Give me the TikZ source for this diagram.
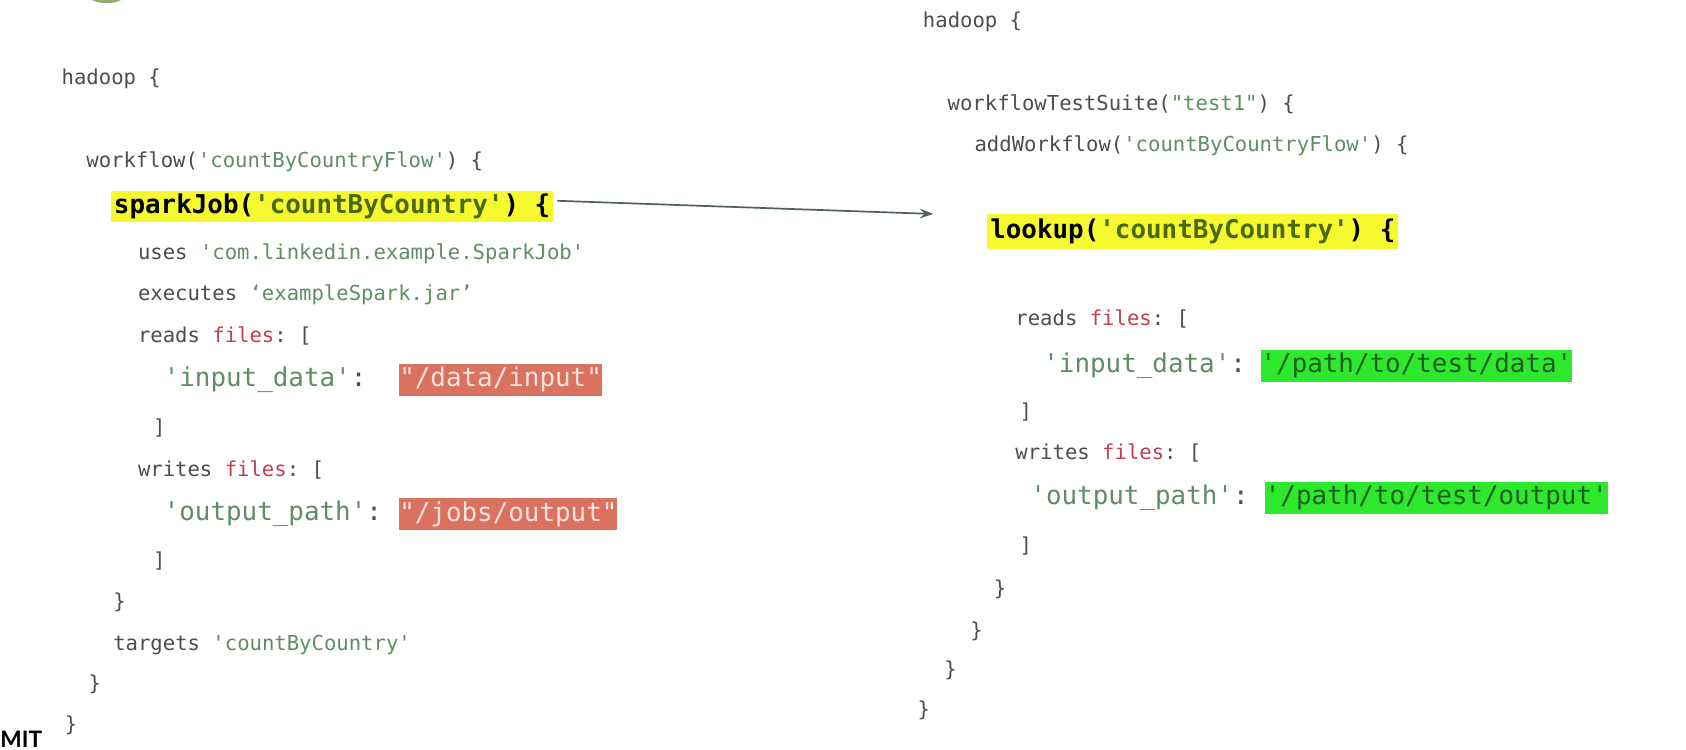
\documentclass[tikz,border=0pt]{standalone}
\usepackage{fontspec}
\setmonofont{DejaVu Sans Mono}
\newfontfamily\markfont{Lato}
\usetikzlibrary{arrows.meta}

\definecolor{codegrey}{HTML}{4D4D4D}
\definecolor{strgreen}{HTML}{5E8F63}
\definecolor{filered}{HTML}{C0404F}
\definecolor{hlyellow}{HTML}{F6F930}
\definecolor{hlstr}{HTML}{4A6A10}
\definecolor{oldred}{HTML}{D9725F}
\definecolor{oldtext}{HTML}{FBE3DC}
\definecolor{newgreen}{HTML}{2EE82E}
\definecolor{newtext}{HTML}{1E5E1E}
\definecolor{arrowgrey}{HTML}{4F6060}
\definecolor{logogreen}{HTML}{8FB070}

\newcommand{\str}[1]{\textcolor{strgreen}{#1}}
\newcommand{\fl}[1]{\textcolor{filered}{#1}}
\newcommand{\hs}[1]{\textcolor{hlstr}{#1}}

\tikzset{
  code/.style={anchor=west, inner sep=0pt, text=codegrey, font=\ttfamily\fontsize{10.9}{13}\selectfont},
  big/.style={anchor=west, inner sep=0pt, text=codegrey, font=\ttfamily\fontsize{13.7}{16}\selectfont},
  hl/.style={big, fill=hlyellow, inner xsep=1.5pt, minimum height=16.5pt, text=black, font=\ttfamily\bfseries\fontsize{13.7}{16}\selectfont},
  oldpath/.style={big, fill=oldred, text=oldtext, minimum height=17pt},
  newpath/.style={big, fill=newgreen, text=newtext, minimum height=17pt}
}

\begin{document}
\begin{tikzpicture}[x=0.02cm, y=-0.02cm, >={Stealth[length=7pt,width=5pt]}]
    \useasboundingbox[fill=white] (0,0) rectangle (1568,697.5);
    \begin{scope}
      \clip (0,0) rectangle (1568,697.5);
      \fill[logogreen] (99,-30) circle (33);
    \end{scope}

    % left: the job
    \node[code] (hadoopL) at (57,73) {hadoop \{};
    \node[code] (flow) at (80,150) {workflow(\str{'countByCountryFlow'}) \{};
    \node[hl] (spark) at (103,192) {sparkJob(\hs{'countByCountry'}) \{};
    \node[code] (uses) at (128,236) {uses \str{'com.linkedin.example.SparkJob'}};
    \node[code] (exec) at (128,274) {executes \str{‘exampleSpark.jar’}};
    \node[code] (readsL) at (128,312) {reads \fl{files}: [};
    \node[big] (inL) at (152,353) {\str{'input\_data'}:};
    \node[oldpath] (inOld) at (371,353) {"/data/input"};
    \node[code] (closeA) at (142,398) {]};
    \node[code] (writesL) at (128,437) {writes \fl{files}: [};
    \node[big] (outL) at (152,478) {\str{'output\_path'}:};
    \node[oldpath] (outOld) at (371,478) {"/jobs/output"};
    \node[code] (closeB) at (142,522) {]};
    \node[code] (closeC) at (105,560) {\}};
    \node[code] (targets) at (105,600) {targets \str{'countByCountry'}};
    \node[code] (closeD) at (82,636) {\}};
    \node[code] (closeE) at (60,675) {\}};
    \node[anchor=west, inner sep=0pt, font=\markfont\bfseries\fontsize{12}{14}\selectfont] (mit) at (0,688) {MIT};

    % right: the test
    \node[code] (hadoopR) at (858,20) {hadoop \{};
    \node[code] (suite) at (881,97) {workflowTestSuite(\str{"test1"}) \{};
    \node[code] (addflow) at (906,136) {addWorkflow(\str{'countByCountryFlow'}) \{};
    \node[hl, minimum height=18.5pt] (lookup) at (918,215) {lookup(\hs{'countByCountry'}) \{};
    \node[code] (readsR) at (944,297) {reads \fl{files}: [};
    \node[big] (inR) at (970,340) {\str{'input\_data'}:};
    \node[newpath] (inNew) at (1172,340) {'/path/to/test/data'};
    \node[code] (closeF) at (948,383) {]};
    \node[code] (writesR) at (944,421) {writes \fl{files}: [};
    \node[big] (outR) at (958,463) {\str{'output\_path'}:};
    \node[newpath] (outNew) at (1176,463) {'/path/to/test/output'};
    \node[code] (closeG) at (948,508) {]};
    \node[code] (closeH) at (924,548) {\}};
    \node[code] (closeI) at (902,587) {\}};
    \node[code] (closeJ) at (878,623) {\}};
    \node[code] (closeK) at (853,661) {\}};

    \coordinate (tip) at (868,199);
    \draw[->, arrowgrey, line width=0.9pt] ([xshift=2pt,yshift=3pt]spark.east) -- (tip);
\end{tikzpicture}
\end{document}
